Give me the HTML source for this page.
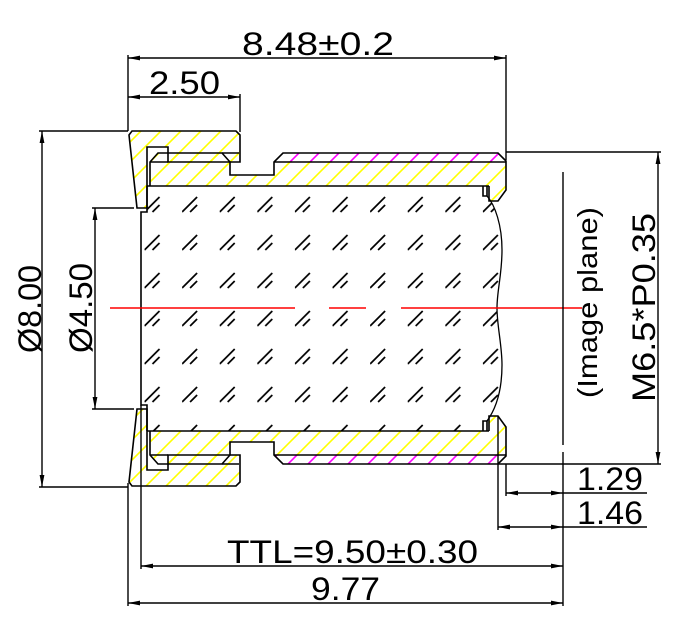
<!DOCTYPE html>
<html><head><meta charset="utf-8">
<style>html,body{margin:0;padding:0;background:#fff;}svg{display:block;}
text{font-family:"Liberation Sans",sans-serif;fill:#000;}</style></head>
<body>
<svg width="677" height="618" viewBox="0 0 677 618" xmlns="http://www.w3.org/2000/svg">
<defs>
<pattern id="hy" patternUnits="userSpaceOnUse" x="12" y="0" width="20" height="20">
<path d="M-2,2 L2,-2 M0,20 L20,0 M18,22 L22,18" stroke="#ffff00" stroke-width="1.6" fill="none"/>
</pattern>
<pattern id="hm" patternUnits="userSpaceOnUse" x="12" y="0" width="20" height="20">
<path d="M-2,2 L2,-2 M0,20 L20,0 M18,22 L22,18" stroke="#ff00ff" stroke-width="1.6" fill="none"/>
</pattern>
<pattern id="hg" patternUnits="userSpaceOnUse" x="144.5" y="175" width="37.6" height="38">
<path d="M0,37 L15,22 M8,37 L15,30" stroke="#000" stroke-width="1.7" fill="none"/>
</pattern>
</defs>

<!-- glass hatch -->
<path d="M147,186 L483,186 L483,196 L487,196 C495,205 502,225 502,250 C502,275 497,290 497,308 C497,326 502,345 502,365 C502,392 495,410 487,421 L483,421 L483,431 L147,431 L147,405 L141,405 L141,212 L147,212 Z" fill="url(#hg)"/>

<!-- yellow hatch: caps -->
<polygon points="132,131 236,131 240,135 240,162 168,162 168,147 147,147 147,208 137,208 129,135" fill="url(#hy)"/>
<polygon points="132,486 236,486 240,482 240,455 168,455 168,470 147,470 147,409 137,409 129,482" fill="url(#hy)"/>
<!-- yellow hatch: barrel -->
<polygon points="150,186 150,162 158,153 222,153 230,162 230,175 274,175 274,162 506,162 506,190 498,201 489,201 489,186" fill="url(#hy)"/>
<polygon points="150,431 150,455 158,464 222,464 230,455 230,442 274,442 274,455 506,455 506,427 498,416 489,416 489,431" fill="url(#hy)"/>
<!-- magenta thread bands -->
<polygon points="274,162 283,153 498,153 506,161 506,162" fill="url(#hm)"/>
<polygon points="274,455 283,464 498,464 506,456 506,455" fill="url(#hm)"/>

<g stroke="#000" stroke-width="1.6" fill="none" stroke-linejoin="miter">
<!-- caps -->
<polygon points="132,131 236,131 240,135 240,162 168,162 168,147 147,147 147,208 137,208 129,135"/>
<polygon points="132,486 236,486 240,482 240,455 168,455 168,470 147,470 147,409 137,409 129,482"/>
<!-- barrel top -->
<path d="M150,186 L150,162 L158,153 L222,153 L230,162 L230,175 L274,175 L274,162 L283,153 L498,153 L506,161 L506,190 L498,201 L489,201 L489,186"/>
<path d="M147,186 L489,186"/>
<path d="M150,162 L168,162 M274,162 L506,162 M222,153 L239,153"/>
<!-- barrel bottom -->
<path d="M150,431 L150,455 L158,464 L222,464 L230,455 L230,442 L274,442 L274,455 L283,464 L498,464 L506,456 L506,427 L498,416 L489,416 L489,431"/>
<path d="M147,431 L489,431"/>
<path d="M150,455 L168,455 M274,455 L506,455 M222,464 L239,464"/>
<!-- glass edges -->
<path d="M147,186 L147,212 L141,212 L141,405 L147,405 L147,431"/>
<path d="M483,186 L483,196 L487,196 L487,186 M483,431 L483,421 L487,421 L487,431"/>
<path d="M487,196 C495,205 502,225 502,250 C502,275 497,290 497,308 C497,326 502,345 502,365 C502,392 495,410 487,421" stroke-width="1.3"/>
</g>

<!-- red axis -->
<g stroke="#ff0000" stroke-width="1.6">
<line x1="110" y1="308" x2="295" y2="308"/>
<line x1="329" y1="308" x2="366" y2="308"/>
<line x1="401" y1="308" x2="582" y2="308"/>
</g>

<!-- dimension / extension lines -->
<g stroke="#000" stroke-width="1.4" fill="none">
<!-- 8.48 -->
<line x1="128" y1="55" x2="128" y2="131"/>
<line x1="506" y1="55" x2="506" y2="160"/>
<line x1="128" y1="58" x2="506" y2="58"/>
<!-- 2.50 -->
<line x1="240" y1="94" x2="240" y2="132"/>
<line x1="128" y1="97" x2="240" y2="97"/>
<!-- ø8.00 -->
<line x1="39" y1="131" x2="128" y2="131"/>
<line x1="39" y1="487" x2="128" y2="487"/>
<line x1="42" y1="131" x2="42" y2="487"/>
<!-- ø4.50 -->
<line x1="92" y1="208" x2="134" y2="208"/>
<line x1="92" y1="409" x2="134" y2="409"/>
<line x1="95" y1="208" x2="95" y2="409"/>
<!-- M6.5 -->
<line x1="506" y1="152" x2="661" y2="152"/>
<line x1="498" y1="464" x2="661" y2="464"/>
<line x1="658" y1="152" x2="658" y2="464"/>
<!-- image plane -->
<line x1="563" y1="172" x2="563" y2="445"/>
<line x1="563" y1="452" x2="563" y2="606"/>
<!-- 1.29 / 1.46 -->
<line x1="506" y1="464" x2="506" y2="496"/>
<line x1="498" y1="416" x2="498" y2="530"/>
<line x1="506" y1="493" x2="647" y2="493"/>
<line x1="498" y1="527" x2="647" y2="527"/>
<!-- TTL / 9.77 -->
<line x1="141" y1="405" x2="141" y2="569"/>
<line x1="128" y1="483" x2="128" y2="606"/>
<line x1="141" y1="566" x2="563" y2="566"/>
<line x1="128" y1="603" x2="563" y2="603"/>
</g>

<!-- arrowheads -->
<g fill="#000" stroke="none">
<polygon points="128,58 140,55.6 140,60.4"/>
<polygon points="506,58 494,55.6 494,60.4"/>
<polygon points="128,97 140,94.6 140,99.4"/>
<polygon points="240,97 228,94.6 228,99.4"/>
<polygon points="42,131 39.6,143 44.4,143"/>
<polygon points="42,487 39.6,475 44.4,475"/>
<polygon points="95,208 92.6,220 97.4,220"/>
<polygon points="95,409 92.6,397 97.4,397"/>
<polygon points="658,152 655.6,164 660.4,164"/>
<polygon points="658,464 655.6,452 660.4,452"/>
<polygon points="506,493 518,490.6 518,495.4"/>
<polygon points="563,493 551,490.6 551,495.4"/>
<polygon points="498,527 510,524.6 510,529.4"/>
<polygon points="563,527 551,524.6 551,529.4"/>
<polygon points="141,566 153,563.6 153,568.4"/>
<polygon points="563,566 551,563.6 551,568.4"/>
<polygon points="128,603 140,600.6 140,605.4"/>
<polygon points="563,603 551,600.6 551,605.4"/>
</g>

<!-- texts -->
<g font-size="32">
<text x="242" y="55" textLength="152" lengthAdjust="spacingAndGlyphs">8.48±0.2</text>
<text x="149" y="94" textLength="71" lengthAdjust="spacingAndGlyphs">2.50</text>
<text x="577" y="490" textLength="66" lengthAdjust="spacingAndGlyphs">1.29</text>
<text x="577" y="524" textLength="66" lengthAdjust="spacingAndGlyphs">1.46</text>
<text x="227" y="563" textLength="251" lengthAdjust="spacingAndGlyphs">TTL=9.50±0.30</text>
<text x="311" y="600" textLength="69" lengthAdjust="spacingAndGlyphs">9.77</text>
<text transform="translate(41,353) rotate(-90)" x="0" y="0" textLength="88" lengthAdjust="spacingAndGlyphs">Ø8.00</text>
<text transform="translate(92,353) rotate(-90)" x="0" y="0" textLength="90" lengthAdjust="spacingAndGlyphs">Ø4.50</text>
<text transform="translate(655,402) rotate(-90)" x="0" y="0" textLength="189" lengthAdjust="spacingAndGlyphs">M6.5*P0.35</text>
</g>
<text font-size="28" transform="translate(597,398) rotate(-90)" x="0" y="0" textLength="191" lengthAdjust="spacingAndGlyphs">(Image plane)</text>
</svg>
</body></html>
